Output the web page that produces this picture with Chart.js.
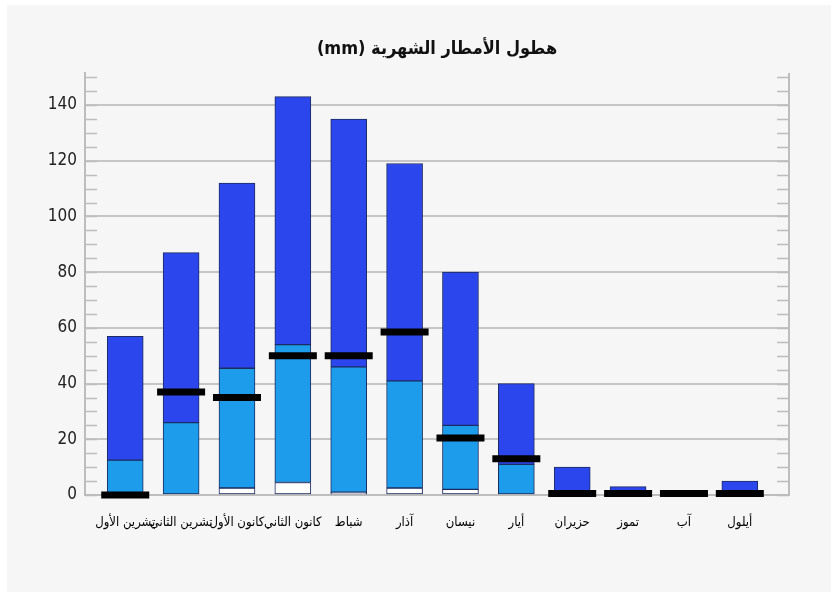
<!DOCTYPE html>
<html lang="ar">
<head>
<meta charset="utf-8">
<script src="https://cdn.jsdelivr.net/npm/chart.js@4/dist/chart.umd.min.js"></script>
<style>
  html, body { margin: 0; padding: 0; background: #ffffff; }
  #wrap { width: 831px; height: 597px; position: relative; }
</style>
</head>
<body>
<div id="wrap"><canvas id="c" width="831" height="597"></canvas></div>
<script>
// ---- data ----
const titleText = '(mm) هطول الأمطار الشهرية';
const monthLabels = ['تشرين الأول', 'تشرين الثاني', 'كانون الأول', 'كانون الثاني', 'شباط', 'آذار', 'نيسان', 'أيار', 'حزيران', 'تموز', 'آب', 'أيلول'];
const minVals  = [0, 0, 2.5, 4.5, 1, 2.5, 2, 0, 0, 0, 0, 0];
const midVals  = [12.5, 26, 45.5, 54, 46, 41, 25, 11, 0, 0, 0, 0];
const maxVals  = [57, 87, 112, 143, 135, 119, 80, 40, 10, 3, 0, 5];
const meanVals = [0, 37, 35, 50, 50, 58.5, 20.5, 13, 0.5, 0.5, 0.5, 0.5];
const yTickValues = [0, 20, 40, 60, 80, 100, 120, 140];

// ---- build datasets ----
const whiteData = monthLabels.map((_, i) => minVals[i] > 0 ? {x: i, y: [0, minVals[i]]} : {x: i, y: null});
const lightData = monthLabels.map((_, i) => midVals[i] > minVals[i] ? {x: i, y: [minVals[i], midVals[i]]} : {x: i, y: null});
const darkData  = monthLabels.map((_, i) => maxVals[i] > Math.max(midVals[i], minVals[i]) ? {x: i, y: [Math.max(midVals[i], minVals[i]), maxVals[i]]} : {x: i, y: null});
const meanData  = monthLabels.map((_, i) => ({x: i, y: meanVals[i]}));

const AX = '#bdbdbd';
const FONT = "'DejaVu Sans Condensed', 'DejaVu Sans', sans-serif";

const bgPlugin = {
  id: 'bg',
  beforeDraw(chart) {
    const ctx = chart.ctx;
    ctx.save();
    ctx.fillStyle = '#f6f6f6';
    ctx.fillRect(7, 5, chart.width - 7, chart.height - 10);
    ctx.restore();
  }
};

const minorTicks = {
  id: 'minorTicks',
  beforeDatasetsDraw(chart) {
    const {ctx, chartArea: a, scales: {y}} = chart;
    ctx.save();
    ctx.strokeStyle = AX;
    ctx.lineWidth = 1.5;
    for (let v = 0; v <= 150; v += 5) {
      const py = Math.round(y.getPixelForValue(v)) + 0.5;
      ctx.beginPath();
      ctx.moveTo(a.left, py); ctx.lineTo(a.left + 12, py);
      ctx.moveTo(a.right - 12, py); ctx.lineTo(a.right, py);
      ctx.stroke();
    }
    ctx.lineWidth = 2;
    ctx.beginPath();
    ctx.moveTo(a.right, a.top); ctx.lineTo(a.right, a.bottom);
    ctx.stroke();
    ctx.restore();
  }
};

const barCommon = {
  type: 'bar',
  grouped: false,
  barThickness: 36,
  borderWidth: 1,
  borderSkipped: false,
  borderColor: '#1d2c5e'
};

new Chart(document.getElementById('c'), {
  type: 'bar',
  data: {
    datasets: [
      {
        type: 'line', label: 'mean', data: meanData, order: 0,
        showLine: false, pointStyle: 'line', pointRadius: 24, pointHoverRadius: 24,
        pointBorderWidth: 7, pointHoverBorderWidth: 7, pointBorderColor: '#000', borderColor: '#000', clip: false
      },
      Object.assign({label: 'max', data: darkData, backgroundColor: '#2c46ee', order: 1}, barCommon),
      Object.assign({label: 'mid', data: lightData, backgroundColor: '#1d9cec', order: 2}, barCommon),
      Object.assign({label: 'min', data: whiteData, backgroundColor: '#ffffff', order: 3}, barCommon)
    ]
  },
  options: {
    responsive: false,
    animation: false,
    events: [],
    layout: { padding: { left: 0, right: 42, top: 0, bottom: 40 } },
    plugins: {
      legend: { display: false },
      tooltip: { enabled: false },
      title: {
        display: true,
        text: titleText,
        fullSize: false,
        color: '#111',
        font: { family: FONT, size: 18, weight: 'bold', lineHeight: 1.2 },
        padding: { top: 39, bottom: 12.4 }
      }
    },
    scales: {
      x: {
        type: 'linear',
        offset: false,
        bounds: 'data',
        min: -0.72,
        max: 11.88,
        afterFit(s) { s.height = 62; },
        afterBuildTicks(s) { s.ticks = monthLabels.map((_, i) => ({value: i})); },
        grid: { display: false, drawTicks: false, offset: false },
        border: { display: true, color: AX, width: 2 },
        ticks: {
          autoSkip: false,
          maxRotation: 0,
          padding: 20,
          color: '#000',
          font: { family: FONT, size: 13 },
          callback: (v) => monthLabels[Math.round(v)] !== undefined ? monthLabels[Math.round(v)] : ''
        }
      },
      y: {
        min: 0,
        max: 151.5,
        afterFit(s) { s.width = 85; },
        afterBuildTicks(s) { s.ticks = yTickValues.map(v => ({value: v})); },
        grid: { color: '#c6c6c6', lineWidth: 2, drawTicks: false },
        border: { display: true, color: AX, width: 2 },
        ticks: {
          padding: 8,
          color: '#222',
          font: { family: FONT, size: 17 }
        }
      }
    }
  },
  plugins: [bgPlugin, minorTicks]
});
</script>
</body>
</html>
